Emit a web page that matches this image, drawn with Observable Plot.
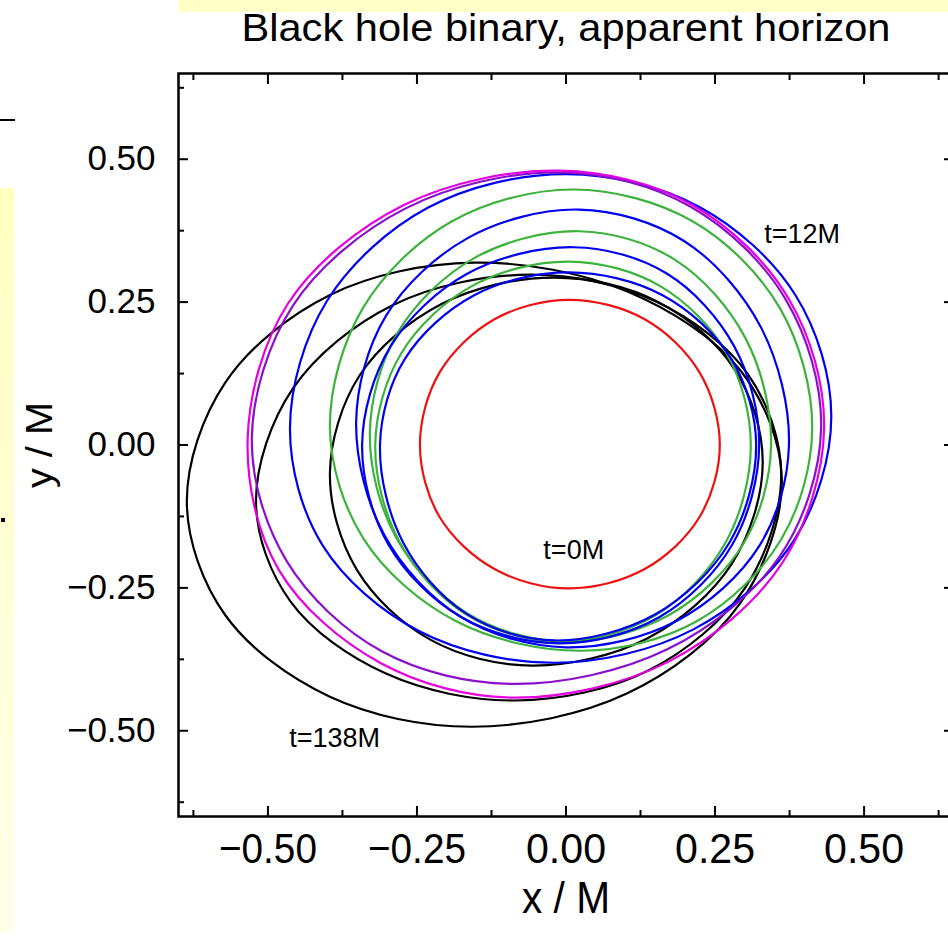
<!DOCTYPE html>
<html><head><meta charset="utf-8">
<script src="https://cdn.jsdelivr.net/npm/d3@7"></script>
<script src="https://cdn.jsdelivr.net/npm/@observablehq/plot@0.6"></script>
<style>
body{margin:0;background:#fff;}
#wrap{position:relative;width:948px;height:938px;overflow:hidden;background:#fff;}
#wrap svg{position:absolute;left:0;top:0;}
.band{position:absolute;z-index:2;}
</style></head><body>
<div id="wrap">
<div class="band" style="left:178px;top:0;width:770px;height:12px;background:#ffffc8"></div>
<div class="band" style="left:0;top:188px;width:14px;height:745px;background:linear-gradient(#ffffc0,#ffffea)"></div>
<div class="band" style="left:0;top:119px;width:15px;height:2px;background:#000"></div>
<div class="band" style="left:1px;top:518px;width:4px;height:4px;background:#000"></div>
</div>
<script>
// ---- text ----
const titleText = ["Black hole binary, apparent horizon"];
const xLabelText = ["x / M"];
const yLabelText = ["y / M"];
const majorTicks = [-0.5, -0.25, 0, 0.25, 0.5];
const minorTicks = [-0.625, -0.375, -0.125, 0.125, 0.375, 0.625];
const tickLabels = ["\u22120.50", "\u22120.25", "0.00", "0.25", "0.50"];
const noteText = ["t=12M", "t=0M", "t=138M"];
const noteX = [0.396, 0.013, -0.388];
const noteY = [0.368, -0.184, -0.514];

// ---- horizon curves (x/M, y/M) ----
const red0 = [[0.258,0.000],[0.224,0.127],[0.132,0.220],[0.005,0.254],[-0.120,0.220],[-0.212,0.127],[-0.245,0.000],[-0.212,-0.126],[-0.120,-0.217],[0.005,-0.251],[0.132,-0.217],[0.224,-0.126]];
const magenta1 = [[0.433,0.030],[0.374,0.255],[0.212,0.420],[-0.010,0.480],[-0.272,0.420],[-0.466,0.248],[-0.534,0.010],[-0.482,-0.218],[-0.312,-0.381],[-0.090,-0.442],[0.172,-0.379],[0.363,-0.206]];
const purple1 = [[0.428,0.030],[0.369,0.254],[0.209,0.417],[-0.010,0.477],[-0.269,0.414],[-0.458,0.244],[-0.527,0.010],[-0.468,-0.204],[-0.309,-0.361],[-0.090,-0.418],[0.169,-0.358],[0.359,-0.194]];
const blue1 = [[0.445,0.050],[0.385,0.262],[0.223,0.417],[0.000,0.474],[-0.232,0.415],[-0.401,0.252],[-0.463,0.030],[-0.408,-0.176],[-0.246,-0.326],[-0.020,-0.381],[0.213,-0.323],[0.383,-0.166]];
const green1 = [[0.413,0.030],[0.359,0.239],[0.213,0.391],[0.013,0.447],[-0.192,0.391],[-0.341,0.239],[-0.396,0.030],[-0.339,-0.165],[-0.185,-0.308],[0.027,-0.360],[0.220,-0.308],[0.361,-0.165]];
const blue2 = [[0.374,0.000],[0.327,0.206],[0.198,0.357],[0.022,0.412],[-0.165,0.362],[-0.302,0.226],[-0.352,0.040],[-0.305,-0.157],[-0.176,-0.301],[0.000,-0.354],[0.187,-0.307],[0.324,-0.177]];
const green2 = [[0.344,0.000],[0.301,0.187],[0.183,0.324],[0.022,0.374],[-0.154,0.327],[-0.282,0.197],[-0.329,0.020],[-0.285,-0.162],[-0.165,-0.295],[0.000,-0.344],[0.172,-0.298],[0.298,-0.172]];
const blue3 = [[0.324,0.000],[0.282,0.173],[0.169,0.300],[0.013,0.346],[-0.165,0.300],[-0.294,0.173],[-0.342,0.000],[-0.298,-0.174],[-0.176,-0.301],[-0.010,-0.347],[0.157,-0.301],[0.279,-0.174]];
const green3 = [[0.310,0.000],[0.269,0.161],[0.158,0.278],[0.005,0.321],[-0.158,0.278],[-0.276,0.161],[-0.320,0.000],[-0.278,-0.172],[-0.165,-0.298],[-0.010,-0.344],[0.150,-0.298],[0.267,-0.172]];
const blue4 = [[0.319,0.000],[0.277,0.151],[0.162,0.262],[0.005,0.302],[-0.154,0.262],[-0.270,0.151],[-0.312,0.000],[-0.273,-0.171],[-0.166,-0.296],[-0.020,-0.342],[0.150,-0.296],[0.274,-0.171]];
const black3 = [[0.330,-0.030],[0.283,0.132],[0.155,0.250],[-0.020,0.293],[-0.208,0.247],[-0.346,0.122],[-0.396,-0.050],[-0.351,-0.218],[-0.227,-0.341],[-0.057,-0.386],[0.137,-0.338],[0.278,-0.208]];
const black2 = [[0.361,-0.050],[0.305,0.124],[0.151,0.251],[-0.060,0.298],[-0.290,0.245],[-0.458,0.099],[-0.520,-0.100],[-0.462,-0.274],[-0.302,-0.400],[-0.084,-0.447],[0.139,-0.394],[0.301,-0.249]];
const black1 = [[0.362,-0.060],[0.293,0.130],[0.104,0.268],[-0.154,0.319],[-0.395,0.263],[-0.571,0.110],[-0.636,-0.100],[-0.572,-0.297],[-0.397,-0.440],[-0.158,-0.493],[0.102,-0.435],[0.292,-0.277]];

const curveList = [
  [black1, "#000000"], [black2, "#000000"], [black3, "#000000"],
  [green1, "#3cb33c"], [green2, "#3cb33c"], [green3, "#3cb33c"],
  [blue1, "#0000ee"], [blue2, "#0000ee"], [blue3, "#0000ee"], [blue4, "#0000ee"],
  [purple1, "#8a10cc"], [magenta1, "#e600e0"], [red0, "#ee1111"]
];

const sans = "'Liberation Sans', Arial, Helvetica, sans-serif";
const fmt = d => tickLabels[majorTicks.indexOf(d)];
const blank = () => "";

const marks = [];
for (const [pts, col] of curveList) {
  marks.push(Plot.line(pts, {x: d => d[0], y: d => d[1], stroke: col, strokeWidth: 2.2, curve: "catmull-rom-closed"}));
}
for (const anchor of ["bottom", "top"]) {
  marks.push(Plot.axisX(majorTicks, {anchor, tickSize: -10, tickFormat: blank, label: null, strokeWidth: 2}));
  marks.push(Plot.axisX(minorTicks, {anchor, tickSize: -6, tickFormat: blank, label: null, strokeWidth: 2}));
}
for (const anchor of ["left", "right"]) {
  marks.push(Plot.axisY(majorTicks, {anchor, tickSize: -10, tickFormat: blank, label: null, strokeWidth: 2}));
  marks.push(Plot.axisY(minorTicks, {anchor, tickSize: -6, tickFormat: blank, label: null, strokeWidth: 2}));
}
marks.push(Plot.axisX(majorTicks, {anchor: "bottom", tickSize: 0, tickPadding: 16, tickFormat: fmt, label: null, fontSize: 43, fontFamily: sans}));
marks.push(Plot.axisY(majorTicks, {anchor: "left", tickSize: 0, tickPadding: 23, tickFormat: fmt, label: null, fontSize: 35, fontFamily: sans}));
marks.push(Plot.frame({stroke: "#000", strokeWidth: 2.5}));
marks.push(Plot.text(titleText, {frameAnchor: "top", dy: -45, lineAnchor: "middle", textAnchor: "middle", fontSize: 39, fontFamily: sans, fill: "#000"}));
marks.push(Plot.text(xLabelText, {frameAnchor: "bottom", dy: 82, lineAnchor: "middle", textAnchor: "middle", fontSize: 44, fontFamily: sans, fill: "#000"}));
marks.push(Plot.text(yLabelText, {frameAnchor: "left", dx: -138, rotate: -90, lineAnchor: "middle", textAnchor: "middle", fontSize: 36, fontFamily: sans, fill: "#000"}));
marks.push(Plot.text(noteText, {x: (d, i) => noteX[i], y: (d, i) => noteY[i], text: d => d, fontSize: 27, fontFamily: sans, fill: "#000"}));

const chart = Plot.plot({
  width: 948, height: 938,
  marginLeft: 178, marginRight: -5, marginTop: 73, marginBottom: 122,
  x: {domain: [-0.65, 0.65]},
  y: {domain: [-0.65, 0.65]},
  style: {background: "transparent", color: "#000", fontFamily: sans},
  marks
});
document.getElementById("wrap").prepend(chart);

// condensed look of the original lettering
const squeeze = (el, w) => { el.setAttribute("textLength", w); el.setAttribute("lengthAdjust", "spacingAndGlyphs"); };
const xTickWidths = {"\u22120.50": 98, "\u22120.25": 98, "0.00": 80, "0.25": 80, "0.50": 80};
chart.querySelectorAll('g[aria-label="x-axis tick label"] text').forEach(t => {
  const w = xTickWidths[t.textContent];
  if (w) squeeze(t, w);
});
chart.querySelectorAll('g[aria-label="text"] text').forEach(t => {
  if (t.textContent === titleText[0]) squeeze(t, 649);
  if (t.textContent === xLabelText[0]) squeeze(t, 88);
  if (t.textContent === yLabelText[0]) squeeze(t, 86);
});
</script>
</body></html>
